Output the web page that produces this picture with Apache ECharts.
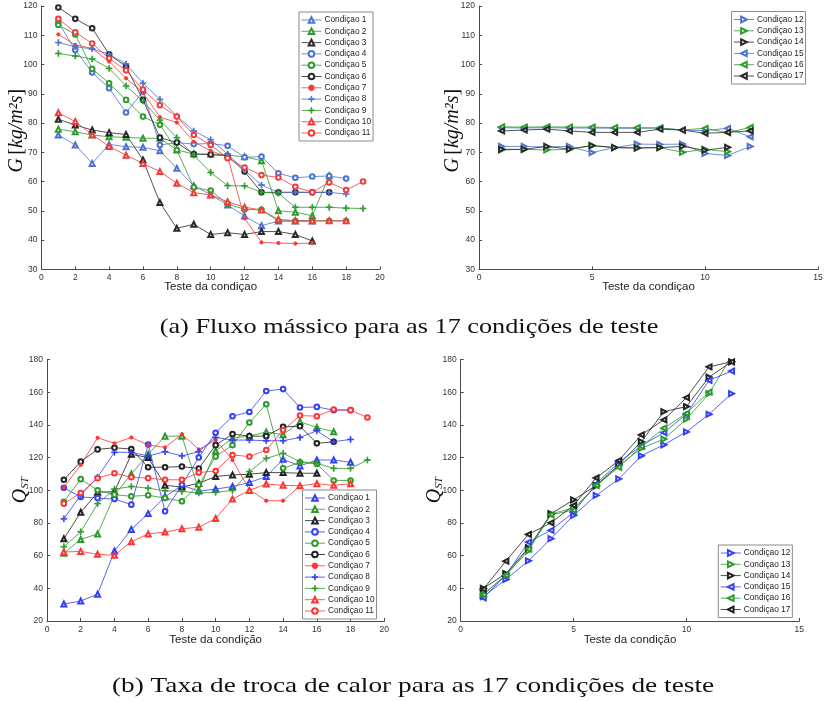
<!DOCTYPE html>
<html>
<head>
<meta charset="utf-8">
<script src="https://cdn.jsdelivr.net/npm/echarts@6/dist/echarts.min.js"></script>
<style>
  html, body { margin: 0; padding: 0; background: #fff; }
  #chart { width: 831px; height: 701px; }
</style>
</head>
<body>
<div id="chart"></div>
<script>
// Mass flux G [kg/m²s] per test of each condition (tests numbered from 1)
const gCond1  = [75.9, 72.5, 66.2, 72.7, 71.9, 71.7, 70.5, 64.5, 58.6, 55.5, 52.0, 48.2, 44.9, 46.5, 46.5, 46.5];
const gCond2  = [77.9, 77.0, 75.9, 75.3, 75.1, 74.8, 74.8, 70.8, 69.4, 69.4, 69.0, 68.5, 67.1, 50.0, 49.5, 48.3, 62.0];
const gCond3  = [81.3, 79.3, 77.6, 76.7, 76.1, 67.4, 52.8, 44.0, 45.4, 41.9, 42.5, 41.9, 42.9, 42.9, 41.9, 39.7];
const gCond4  = [114.4, 105.0, 97.3, 91.9, 83.6, 90.7, 72.5, 73.3, 72.8, 73.0, 72.2, 68.3, 68.5, 62.8, 61.3, 61.7, 61.9, 61.0];
const gCond5  = [113.5, 110.3, 98.5, 93.6, 87.9, 82.2, 79.4, 70.8, 58.0, 56.9, 52.3, 50.5, 50.3, 46.5, 46.5, 46.5, 46.5, 46.5];
const gCond6  = [119.5, 115.6, 112.4, 103.5, 99.3, 87.9, 75.0, 73.3, 69.4, 69.2, 68.8, 63.4, 56.3, 56.3, 56.3, 56.3, 56.3];
const gCond7  = [110.3, 106.7, 105.5, 101.0, 95.3, 90.4, 82.0, 80.2, 73.6, 70.5, 68.5, 47.4, 39.2, 39.0, 38.8, 39.0];
const gCond8  = [107.5, 106.1, 105.3, 103.5, 100.2, 93.6, 88.1, 82.4, 77.3, 74.3, 69.4, 63.9, 58.8, 56.3, 56.3, 56.3, 56.3, 55.7];
const gCond9  = [103.8, 102.9, 101.9, 98.7, 92.7, 87.5, 81.0, 75.0, 69.0, 63.1, 58.6, 58.5, 56.3, 56.0, 51.2, 51.2, 51.2, 50.9, 50.8];
const gCond10 = [83.5, 80.5, 76.0, 72.0, 69.0, 66.2, 63.4, 59.4, 56.2, 55.4, 53.1, 51.2, 50.3, 47.1, 46.6, 46.6, 46.6, 46.6];
const gCond11 = [115.6, 111.0, 107.2, 102.1, 98.0, 91.4, 86.1, 82.2, 75.9, 72.5, 68.0, 64.8, 62.2, 61.4, 58.2, 56.3, 59.7, 57.1, 60.0];
const gCond12 = [72.0, 72.0, 71.8, 72.0, 69.9, 71.6, 72.8, 72.7, 72.8, 69.6, 68.9, 72.0];
const gCond13 = [70.8, 71.0, 70.8, 71.0, 72.3, 71.6, 71.6, 71.6, 70.0, 71.0, 70.2];
const gCond14 = [71.0, 71.0, 72.0, 71.1, 72.3, 71.6, 71.4, 71.6, 72.0, 70.7, 71.7];
const gCond15 = [78.4, 78.3, 78.4, 78.3, 78.3, 78.2, 78.2, 78.3, 77.6, 77.4, 78.2, 75.3];
const gCond16 = [78.7, 78.6, 78.7, 78.6, 78.6, 78.4, 78.4, 78.3, 77.6, 78.2, 76.7, 78.5];
const gCond17 = [77.3, 77.6, 77.9, 77.3, 76.8, 76.8, 76.8, 77.9, 77.6, 76.5, 76.8, 77.3];

// Heat exchange rate Q_ST per test of each condition
const qCond1  = [30.4, 32.2, 36.4, 62.8, 76.0, 85.7, 96.0, 103.0, 99.5, 100.7, 102.3, 104.7, 108.4, 118.9, 114.9, 118.5, 118.5, 117.1];
const qCond2  = [61.4, 69.9, 73.3, 97.0, 110.0, 122.0, 133.1, 133.1, 100.0, 124.0, 132.0, 133.0, 135.7, 134.0, 141.9, 138.4, 135.8];
const qCond3  = [70.3, 86.5, 98.7, 99.2, 122.0, 120.0, 103.0, 102.0, 104.3, 108.4, 109.4, 109.8, 110.8, 110.8, 110.4, 110.4];
const qCond4  = [101.5, 95.9, 95.2, 94.6, 91.2, 128.0, 87.1, 103.4, 120.0, 135.2, 145.3, 147.9, 160.7, 161.9, 150.6, 151.0, 149.0, 149.0];
const qCond5  = [93.0, 106.8, 100.0, 97.3, 96.3, 96.9, 95.2, 93.2, 103.3, 120.6, 127.6, 141.4, 152.6, 113.4, 117.1, 116.1, 106.0, 106.0];
const qCond6  = [106.4, 117.5, 125.0, 126.0, 125.2, 114.1, 114.1, 114.5, 113.3, 127.6, 134.4, 133.1, 133.1, 138.8, 139.2, 128.7, 129.7];
const qCond7  = [101.9, 115.5, 132.1, 128.7, 132.3, 127.7, 126.2, 134.3, 125.0, 130.7, 118.5, 100.3, 93.6, 93.6, 102.7];
const qCond8  = [82.5, 97.0, 108.0, 123.2, 123.2, 121.0, 123.6, 121.0, 123.6, 132.3, 130.7, 130.7, 130.3, 130.3, 132.3, 136.4, 129.7, 131.1];
const qCond9  = [65.4, 74.6, 91.8, 100.7, 102.3, 101.3, 99.7, 99.3, 98.3, 98.7, 99.9, 111.4, 119.5, 122.6, 117.5, 116.5, 113.4, 113.4, 118.5];
const qCond10 = [62.2, 62.6, 60.8, 60.2, 68.5, 73.3, 74.4, 76.4, 77.4, 82.7, 94.6, 99.9, 103.8, 103.0, 102.7, 104.0, 103.0, 104.0];
const qCond11 = [91.8, 98.3, 107.4, 110.4, 108.0, 107.4, 106.4, 106.4, 110.8, 111.8, 121.6, 120.6, 124.6, 136.8, 145.7, 145.3, 149.4, 149.0, 144.5];
const qCond12 = [34.9, 45.4, 56.8, 70.4, 84.6, 96.8, 106.9, 121.1, 127.8, 135.7, 146.5, 159.1];
const qCond13 = [36.5, 48.0, 62.9, 85.6, 89.1, 102.5, 115.0, 125.6, 131.3, 143.5, 159.1, 182.0];
const qCond14 = [39.9, 49.0, 64.7, 85.6, 94.1, 102.9, 115.6, 129.7, 148.1, 151.2, 169.2, 178.6];
const qCond15 = [34.2, 48.0, 68.3, 75.5, 86.6, 103.9, 117.1, 127.2, 135.3, 146.5, 167.2, 172.9];
const qCond16 = [36.0, 48.0, 64.0, 85.0, 87.8, 102.9, 114.0, 126.8, 138.0, 147.1, 160.1];
const qCond17 = [39.5, 56.6, 73.0, 80.1, 90.7, 107.5, 118.1, 133.9, 143.1, 156.7, 175.5, 178.6];

// Axis ranges and tick steps
const xTicksLeft  = { min: 0, max: 20, interval: 2 };
const xTicksRight = { min: 0, max: 15, interval: 5 };
const gTicks = { min: 30, max: 120, interval: 10 };
const qTicks = { min: 20, max: 180, interval: 20 };

const labelPrefix = 'Condiçao ';
const xNameTop = 'Teste da condiçao';
const xNameBottom = 'Teste da condição';
const captionA = '(a) Fluxo mássico para as 17 condições de teste';
const captionB = '(b) Taxa de troca de calor para as 17 condições de teste';

// Styles
const PLUS = 'path://M4.3,0H5.7V4.3H10V5.7H5.7V10H4.3V5.7H0V4.3H4.3Z';
const topColors = { b: '#5072cf', g: '#2f9a2f', k: '#2a2a2a', r: '#f03c3c' };
const botColors = { b: '#3440f2', g: '#2c9a2c', k: '#222222', r: '#ff3434' };
const marks = {
  tri:   { symbol: 'emptyTriangle', size: 5, rot: 0 },
  circ:  { symbol: 'emptyCircle', size: 4.6, rot: 0 },
  dot:   { symbol: 'circle', size: 3.4, rot: 0 },
  plus:  { symbol: PLUS, size: 6, rot: 0 },
  right: { symbol: 'emptyTriangle', size: 5, rot: -90 },
  left:  { symbol: 'emptyTriangle', size: 5, rot: 90 }
};
// color key and marker of each condition
const condStyle = [
  null,
  ['b', 'tri'], ['g', 'tri'], ['k', 'tri'],
  ['b', 'circ'], ['g', 'circ'], ['k', 'circ'],
  ['r', 'dot'], ['b', 'plus'], ['g', 'plus'],
  ['r', 'tri'], ['r', 'circ'],
  ['b', 'right'], ['g', 'right'], ['k', 'right'],
  ['b', 'left'], ['g', 'left'], ['k', 'left']
];

const gData = [null, gCond1, gCond2, gCond3, gCond4, gCond5, gCond6, gCond7, gCond8, gCond9,
  gCond10, gCond11, gCond12, gCond13, gCond14, gCond15, gCond16, gCond17];
const qData = [null, qCond1, qCond2, qCond3, qCond4, qCond5, qCond6, qCond7, qCond8, qCond9,
  qCond10, qCond11, qCond12, qCond13, qCond14, qCond15, qCond16, qCond17];

function makeSeries(prefix, cond, values, axisIndex, palette) {
  const [ck, mk] = condStyle[cond];
  const color = palette[ck];
  const m = marks[mk];
  return {
    type: 'line',
    name: prefix + cond,
    xAxisIndex: axisIndex,
    yAxisIndex: axisIndex,
    data: values.map((v, i) => [i + 1, v]),
    symbol: m.symbol,
    symbolSize: m.size,
    symbolRotate: m.rot,
    showAllSymbol: true,
    lineStyle: { width: 0.9, color: color, opacity: 0.9 },
    itemStyle: { color: color, borderColor: color, borderWidth: 0.8 },
    emphasis: { disabled: true },
    animation: false
  };
}

const series = [];
for (let c = 1; c <= 11; c++) series.push(makeSeries('G', c, gData[c], 0, topColors));
for (let c = 12; c <= 17; c++) series.push(makeSeries('G', c, gData[c], 1, topColors));
for (let c = 1; c <= 11; c++) series.push(makeSeries('Q', c, qData[c], 2, botColors));
for (let c = 12; c <= 17; c++) series.push(makeSeries('Q', c, qData[c], 3, botColors));

const axisColor = '#4a4a4a';
const tickFont = { color: '#333', fontSize: 8.5, fontFamily: 'Liberation Sans, Arial, sans-serif', margin: 4 };

function xAxisCfg(gridIndex, ticks, name, gap) {
  return {
    type: 'value', gridIndex: gridIndex,
    min: ticks.min, max: ticks.max, interval: ticks.interval,
    name: name, nameLocation: 'middle', nameGap: gap, nameMoveOverlap: false,
    nameTextStyle: { color: '#222', fontSize: 11.5, fontFamily: 'Liberation Sans, Arial, sans-serif' },
    axisLine: { lineStyle: { color: axisColor, width: 1 } },
    axisTick: { inside: true, length: 3, lineStyle: { color: axisColor } },
    axisLabel: tickFont,
    splitLine: { show: false }
  };
}

const serifRich = {
  i: { fontFamily: 'Liberation Serif, serif', fontStyle: 'italic', fontSize: 20, color: '#111' },
  r: { fontFamily: 'Liberation Serif, serif', fontSize: 20, color: '#111' },
  s: { fontFamily: 'Liberation Serif, serif', fontStyle: 'italic', fontSize: 11, color: '#111', verticalAlign: 'bottom', padding: [7, 0, 0, 0] }
};

function yAxisCfg(gridIndex, ticks, name, gap, shift) {
  return {
    type: 'value', gridIndex: gridIndex,
    min: ticks.min, max: ticks.max, interval: ticks.interval,
    name: name, nameLocation: 'middle', nameGap: gap, nameRotate: 90, nameMoveOverlap: false,
    nameTextStyle: { rich: serifRich, padding: [0, 0, 0, shift] },
    axisLine: { show: true, lineStyle: { color: axisColor, width: 1 } },
    axisTick: { show: true, inside: true, length: 3, lineStyle: { color: axisColor } },
    axisLabel: tickFont,
    splitLine: { show: false }
  };
}

const gName = '{i|G} {r|[}{i|kg/m²s}{r|]}';
const qName = '{i|Q}{s|ST}';

function legendCfg(prefix, from, to, left, top) {
  const data = [];
  for (let c = from; c <= to; c++) data.push(prefix + c);
  return {
    data: data, orient: 'vertical', left: left, top: top,
    backgroundColor: '#fff', borderColor: '#8a8a8a', borderWidth: 1,
    padding: [3, 2, 3, 2], itemGap: 1.3, itemWidth: 20, itemHeight: 7,
    selectedMode: false,
    lineStyle: { width: 0.9 },
    itemStyle: { borderWidth: 0.8 },
    formatter: (n) => labelPrefix + n.slice(1),
    textStyle: { fontSize: 8.3, lineHeight: 10, color: '#222', fontFamily: 'Liberation Sans, Arial, sans-serif', padding: [0, 0, 0, -2] }
  };
}

const option = {
  backgroundColor: '#fff',
  animation: false,
  grid: [
    { left: 41.4, top: 6, width: 338.6, height: 263.3 },
    { left: 479, top: 6, width: 339, height: 263.3 },
    { left: 47, top: 359.5, width: 337.3, height: 261.5 },
    { left: 460.7, top: 359.5, width: 338.6, height: 261.5 }
  ],
  xAxis: [
    xAxisCfg(0, xTicksLeft, xNameTop, 12),
    xAxisCfg(1, xTicksRight, xNameTop, 12),
    xAxisCfg(2, xTicksLeft, xNameBottom, 13),
    xAxisCfg(3, xTicksRight, xNameBottom, 13)
  ],
  yAxis: [
    yAxisCfg(0, gTicks, gName, 15, 14),
    yAxisCfg(1, gTicks, gName, 16, 14),
    yAxisCfg(2, qTicks, qName, 16, 0),
    yAxisCfg(3, qTicks, qName, 16, 0)
  ],
  legend: [
    legendCfg('G', 1, 11, 299, 12),
    legendCfg('G', 12, 17, 731.5, 11.5),
    legendCfg('Q', 1, 11, 302.5, 490),
    legendCfg('Q', 12, 17, 718.3, 545)
  ],
  graphic: [
    { type: 'text', x: 409, y: 327, scaleX: 1.25, style: { text: captionA, fontFamily: 'Liberation Serif, serif', fontSize: 21, fill: '#111', textAlign: 'center', textVerticalAlign: 'middle' } },
    { type: 'text', x: 413, y: 686, scaleX: 1.3, style: { text: captionB, fontFamily: 'Liberation Serif, serif', fontSize: 21, fill: '#111', textAlign: 'center', textVerticalAlign: 'middle' } }
  ],
  series: series
};

const chart = echarts.init(document.getElementById('chart'), null, { renderer: 'canvas' });
chart.setOption(option);
</script>
</body>
</html>
